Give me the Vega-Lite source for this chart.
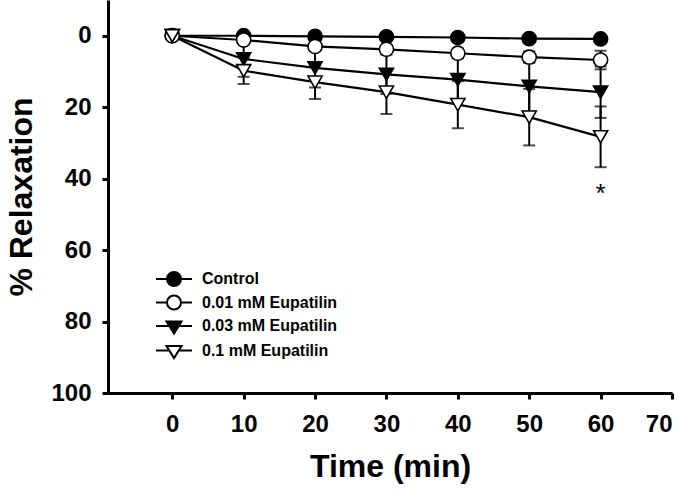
{
  "$schema": "https://vega.github.io/schema/vega-lite/v6.json",
  "autosize": "none",
  "width": 564,
  "height": 393,
  "padding": {"left": 108, "top": 0, "right": 15, "bottom": 102},
  "background": "white",
  "datasets": {
    "d": [
      {"time": 0, "group": "Control", "mean": 0, "lo": 0, "hi": 0},
      {"time": 10, "group": "Control", "mean": 0.0, "lo": -0.4, "hi": 0.4},
      {"time": 20, "group": "Control", "mean": 0.2, "lo": -0.3, "hi": 0.7},
      {"time": 30, "group": "Control", "mean": 0.3, "lo": -0.3, "hi": 0.9},
      {"time": 40, "group": "Control", "mean": 0.5, "lo": -0.2, "hi": 1.2},
      {"time": 50, "group": "Control", "mean": 0.8, "lo": 0.0, "hi": 1.6},
      {"time": 60, "group": "Control", "mean": 0.9, "lo": 0.1, "hi": 1.7},
      {"time": 0, "group": "0.01 mM Eupatilin", "mean": 0, "lo": 0, "hi": 0},
      {"time": 10, "group": "0.01 mM Eupatilin", "mean": 1.2, "lo": 0.7, "hi": 1.7},
      {"time": 20, "group": "0.01 mM Eupatilin", "mean": 3.0, "lo": 2.2, "hi": 3.8},
      {"time": 30, "group": "0.01 mM Eupatilin", "mean": 3.8, "lo": 2.8, "hi": 4.8},
      {"time": 40, "group": "0.01 mM Eupatilin", "mean": 4.9, "lo": 3.6, "hi": 6.2},
      {"time": 50, "group": "0.01 mM Eupatilin", "mean": 6.0, "lo": 4.4, "hi": 7.6},
      {"time": 60, "group": "0.01 mM Eupatilin", "mean": 6.8, "lo": 4.2, "hi": 9.4},
      {"time": 0, "group": "0.03 mM Eupatilin", "mean": 0, "lo": 0, "hi": 0},
      {"time": 10, "group": "0.03 mM Eupatilin", "mean": 6.5, "lo": 1.5, "hi": 11.5},
      {"time": 20, "group": "0.03 mM Eupatilin", "mean": 9.0, "lo": 3.5, "hi": 14.5},
      {"time": 30, "group": "0.03 mM Eupatilin", "mean": 10.8, "lo": 5.3, "hi": 16.3},
      {"time": 40, "group": "0.03 mM Eupatilin", "mean": 12.3, "lo": 6.3, "hi": 18.3},
      {"time": 50, "group": "0.03 mM Eupatilin", "mean": 14.2, "lo": 7.2, "hi": 21.2},
      {"time": 60, "group": "0.03 mM Eupatilin", "mean": 15.8, "lo": 8.6, "hi": 23.0},
      {"time": 0, "group": "0.1 mM Eupatilin", "mean": 0, "lo": 0, "hi": 0},
      {"time": 10, "group": "0.1 mM Eupatilin", "mean": 9.8, "lo": 6.1, "hi": 13.5},
      {"time": 20, "group": "0.1 mM Eupatilin", "mean": 13.0, "lo": 8.3, "hi": 17.7},
      {"time": 30, "group": "0.1 mM Eupatilin", "mean": 15.8, "lo": 9.7, "hi": 21.9},
      {"time": 40, "group": "0.1 mM Eupatilin", "mean": 19.3, "lo": 12.7, "hi": 25.9},
      {"time": 50, "group": "0.1 mM Eupatilin", "mean": 22.8, "lo": 14.9, "hi": 30.7},
      {"time": 60, "group": "0.1 mM Eupatilin", "mean": 28.3, "lo": 19.8, "hi": 36.8}
    ],
    "star": [{"time": 60, "y": 42.5, "t": "*"}]
  },
  "data": {"name": "d"},
  "layer": [
    {
      "transform": [{"filter": "datum.time > 0"}],
      "mark": {"type": "errorbar", "color": "black", "ticks": {"size": 12, "thickness": 2, "color": "black"}, "rule": {"strokeWidth": 2, "color": "black"}},
      "encoding": {
        "x": {"field": "time", "type": "quantitative", "scale": {"domain": [-9, 70], "nice": false, "zero": false},
          "axis": {"title": "Time (min)", "values": [0, 10, 20, 30, 40, 50, 60, 70], "labelPadding": 13, "titlePadding": 15}},
        "y": {"field": "lo", "type": "quantitative", "scale": {"domain": [-10, 100], "reverse": true, "nice": false, "zero": false},
          "axis": {"title": "% Relaxation", "values": [0, 20, 40, 60, 80, 100], "labelPadding": 11, "titlePadding": 12}},
        "y2": {"field": "hi"}
      }
    },
    {
      "mark": {"type": "line", "color": "black", "strokeWidth": 2.2},
      "encoding": {
        "x": {"field": "time", "type": "quantitative"},
        "y": {"field": "mean", "type": "quantitative"},
        "detail": {"field": "group"}
      }
    },
    {
      "mark": {"type": "point", "filled": true, "stroke": "black", "strokeWidth": 1.6, "size": 200, "opacity": 1},
      "encoding": {
        "x": {"field": "time", "type": "quantitative"},
        "y": {"field": "mean", "type": "quantitative"},
        "shape": {"condition": {"test": "datum.group === 'Control' || datum.group === '0.01 mM Eupatilin'", "value": "circle"}, "value": "triangle-down"},
        "fill": {"condition": {"test": "datum.group === 'Control' || datum.group === '0.03 mM Eupatilin'", "value": "black"}, "value": "white"}
      }
    },
    {
      "transform": [{"filter": "datum.time < -100"}],
      "mark": {"type": "point", "filled": true, "strokeWidth": 2, "opacity": 1},
      "encoding": {
        "x": {"field": "time", "type": "quantitative"},
        "y": {"field": "mean", "type": "quantitative"},
        "shape": {"field": "group", "type": "nominal",
          "scale": {"domain": ["Control", "0.01 mM Eupatilin", "0.03 mM Eupatilin", "0.1 mM Eupatilin"],
            "range": [
              "M-1.8,0H-0.7M0.7,0H1.8M-0.7,0A0.7,0.7,0,1,0,0.7,0A0.7,0.7,0,1,0,-0.7,0Z",
              "M-1.8,0H-0.7M0.7,0H1.8M-0.7,0A0.7,0.7,0,1,0,0.7,0A0.7,0.7,0,1,0,-0.7,0Z",
              "M-1.8,0H-0.45M0.45,0H1.8M-0.75,-0.45L0.75,-0.45L0,0.75Z",
              "M-1.8,0H-0.45M0.45,0H1.8M-0.75,-0.45L0.75,-0.45L0,0.75Z"
            ]},
          "legend": {"title": null, "orient": "none", "legendX": 55, "legendY": 268, "padding": 0, "rowPadding": 1.5,
            "labelOffset": 17, "labelFontSize": 16, "labelFont": "Liberation Sans", "labelFontWeight": "bold", "labelColor": "black",
            "symbolSize": 400, "symbolStrokeWidth": 2}},
        "fill": {"field": "group", "type": "nominal",
          "scale": {"domain": ["Control", "0.01 mM Eupatilin", "0.03 mM Eupatilin", "0.1 mM Eupatilin"], "range": ["black", "white", "black", "white"]},
          "legend": {"title": null, "orient": "none", "legendX": 55, "legendY": 268, "padding": 0, "rowPadding": 1.5,
            "labelOffset": 17, "labelFontSize": 16, "labelFont": "Liberation Sans", "labelFontWeight": "bold", "labelColor": "black",
            "symbolSize": 400, "symbolStrokeWidth": 2}},
        "stroke": {"field": "group", "type": "nominal",
          "scale": {"domain": ["Control", "0.01 mM Eupatilin", "0.03 mM Eupatilin", "0.1 mM Eupatilin"], "range": ["black", "black", "black", "black"]},
          "legend": {"title": null, "orient": "none", "legendX": 55, "legendY": 268, "padding": 0, "rowPadding": 1.5,
            "labelOffset": 17, "labelFontSize": 16, "labelFont": "Liberation Sans", "labelFontWeight": "bold", "labelColor": "black",
            "symbolSize": 400, "symbolStrokeWidth": 2}}
      }
    },
    {
      "data": {"name": "star"},
      "mark": {"type": "text", "font": "Liberation Sans", "fontSize": 26, "baseline": "middle", "dy": 6, "color": "black"},
      "encoding": {
        "x": {"field": "time", "type": "quantitative"},
        "y": {"field": "y", "type": "quantitative"},
        "text": {"field": "t"}
      }
    }
  ],
  "config": {
    "view": {"stroke": null},
    "axis": {
      "grid": false,
      "domainColor": "black", "domainWidth": 3,
      "tickColor": "black", "tickWidth": 3, "tickSize": 6,
      "labelFont": "Liberation Sans", "labelFontWeight": "bold", "labelFontSize": 24, "labelColor": "black",
      "titleFont": "Liberation Sans", "titleFontWeight": "bold", "titleFontSize": 32, "titleColor": "black"
    }
  }
}
